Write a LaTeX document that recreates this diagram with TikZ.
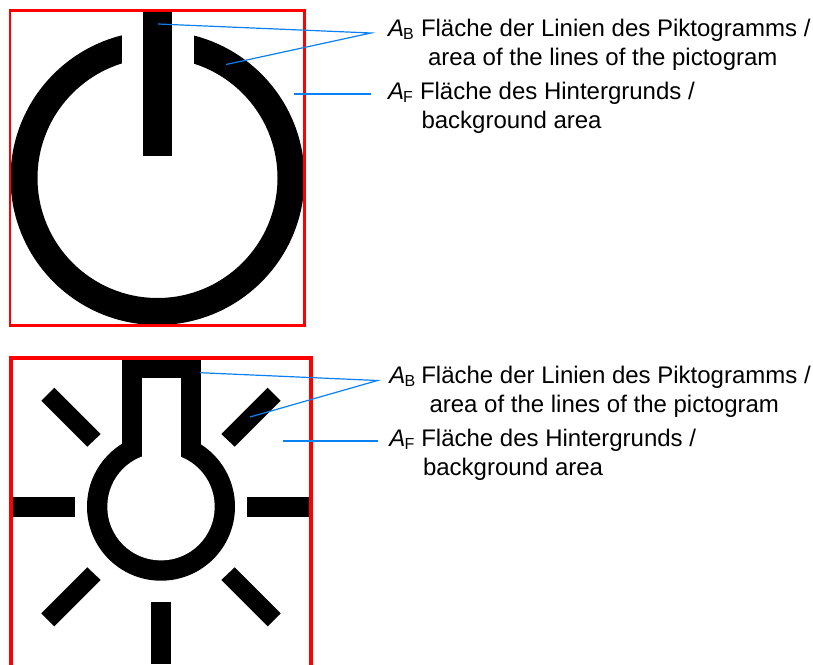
\documentclass[tikz,border=0pt]{standalone}
\usepackage{fontspec}
\setmainfont{Liberation Sans}
\definecolor{leader}{HTML}{0A80F5}
\definecolor{frame}{HTML}{FF0000}
\newcommand{\subsc}[1]{\raisebox{-3.5pt}{\fontsize{16}{16}\selectfont #1}}
\tikzset{
  lbl/.style={anchor=base west,inner sep=0pt,outer sep=0pt,font=\fontsize{24}{24}\selectfont,text=black},
  leaderline/.style={draw=leader,line width=1.2pt},
  framebox/.style={draw=frame,line width=2.2pt},
  framethick/.style={draw=frame,line width=3.2pt},
  symb/.style={fill=black,draw=none},
  cut/.style={fill=white,draw=none}
}
\begin{document}
\begin{tikzpicture}[x=1pt,y=-1pt]
\clip (0,0) rectangle (813,664);
\fill[white] (0,0) rectangle (813,664);
% power symbol
\fill[symb,even odd rule] (157.5,178) circle[radius=147] (157.5,178) circle[radius=120];
\fill[cut] (121.5,20) rectangle (193.5,80);
\fill[symb] (143,11) rectangle (172.3,155.5);
\draw[framebox] (10,10.5) rectangle (304.5,325.5);
% lamp symbol
\fill[symb] (161,506.7) circle[radius=74];
\fill[symb] (121.5,358) rectangle (200.5,460);
\fill[cut] (161,506.7) circle[radius=53.7];
\fill[cut] (141.5,377.7) rectangle (180.5,480);
\fill[symb] (12,497.3) rectangle (75,516.7);
\fill[symb] (246.7,497.3) rectangle (310,516.7);
\fill[symb] (151.3,601.7) rectangle (170.7,664);
\fill[symb] (41.3,400.7) -- (54.3,387.7) -- (100.7,434) -- (87.3,446.7) -- cycle;
\fill[symb] (280.7,400.7) -- (267.7,387.7) -- (221.3,434) -- (234.7,446.7) -- cycle;
\fill[symb] (41.3,613.3) -- (54.3,626.3) -- (100.7,580) -- (87.3,567.3) -- cycle;
\fill[symb] (280.7,613.3) -- (267.7,626.3) -- (221.3,580) -- (234.7,567.3) -- cycle;
\draw[framethick] (11,358) rectangle (311,690);
% labels top
\node[lbl] (ab1) at (388,36) {\itshape A};
\node[lbl] (ab1s) at (403,36) {\subsc{B}};
\node[lbl] (ab1t) at (421,36) {Fläche der Linien des Piktogramms /};
\node[lbl] (ab1u) at (428,65) {area of the lines of the pictogram};
\node[lbl] (af1) at (388,99) {\itshape A};
\node[lbl] (af1s) at (403,99) {\subsc{F}};
\node[lbl] (af1t) at (420,99) {Fläche des Hintergrunds /};
\node[lbl] (af1u) at (421.5,128) {background area};
% labels bottom
\node[lbl] (ab2) at (389.3,383.3) {\itshape A};
\node[lbl] (ab2s) at (404.5,383.3) {\subsc{B}};
\node[lbl] (ab2t) at (421.3,383.3) {Fläche der Linien des Piktogramms /};
\node[lbl] (ab2u) at (429.5,412.7) {area of the lines of the pictogram};
\node[lbl] (af2) at (389.3,446) {\itshape A};
\node[lbl] (af2s) at (404.5,446) {\subsc{F}};
\node[lbl] (af2t) at (421.3,446) {Fläche des Hintergrunds /};
\node[lbl] (af2u) at (423,475) {background area};
% leader lines
\coordinate (j1) at (371,33);
\coordinate (bar1) at (158,24);
\coordinate (arc1) at (226,64.5);
\coordinate (bg1) at (294,94);
\coordinate (bgj1) at (371,94);
\coordinate (j2) at (377.5,380.5);
\coordinate (stem2) at (200,372.7);
\coordinate (ray2) at (250,417);
\coordinate (bg2) at (283,441);
\coordinate (bgj2) at (377.5,441);
\draw[leaderline] (bar1) -- (j1) -- (arc1);
\draw[leaderline] (bg1) -- (bgj1);
\draw[leaderline] (stem2) -- (j2) -- (ray2);
\draw[leaderline] (bg2) -- (bgj2);
\end{tikzpicture}
\end{document}
